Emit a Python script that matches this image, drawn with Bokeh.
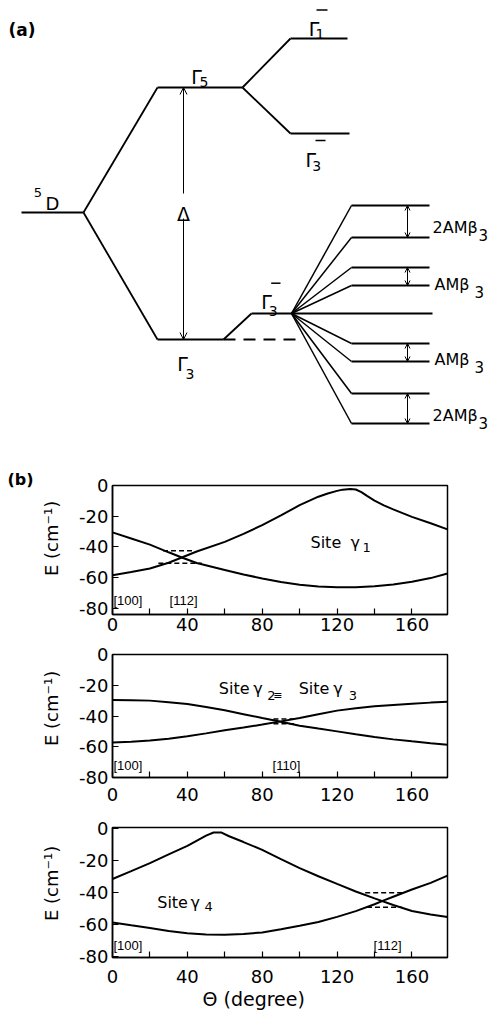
from bokeh.plotting import figure
from bokeh.layouts import column
from bokeh.models import Range1d, Arrow, OpenHead, FixedTicker, ColumnDataSource, Title
from bokeh.core.properties import value
from bokeh.embed import file_html
from bokeh.resources import INLINE

FONT = "DejaVu Sans"
SMALL_FONT = "Liberation Sans"

# ---------------- (a) schematic energy-level scheme ----------------
# levels: left end, right end (diagram column units), schematic energy
LEVEL_X0 = [21, 157, 157, 290, 290, 251]
LEVEL_X1 = [83, 242, 223, 347, 349, 432]
LEVEL_E = [0, 125, -127, 174, 79, -101]
LINK_FROM = [0, 0, 1, 1, 2]
LINK_TO = [1, 2, 3, 4, 5]
REF_X0, REF_X1, REF_E = 223, 297, -127          # dashed Γ3 reference
FAN_ORIGIN_X = 291
FAN_X0, FAN_X1 = 351, 429
FAN_SHIFT = [108, 76, 46, 28, -30, -48, -80, -110]   # relative to Γ3- level
SPLIT_X = 407
SPLIT_TOP = [108, 46, -30, -80]
SPLIT_BOT = [76, 28, -48, -110]
SPLIT_TEXT = ["2AMβ", "AMβ", "AMβ", "2AMβ"]
SPLIT_TX = [432, 434, 434, 432]
SPLIT_TE = [-15, -72, -147, -203]
SPLIT_SX = [478, 474, 474, 478]
SPLIT_SE = [-22, -79, -154, -210]
DELTA_X = 183
DELTA_GAP = [19, -6]

GAMMA_X = [190.7, 308.3, 305, 176.7, 260.7]
GAMMA_E = [136, 183.7, 52.7, -151.3, -89.7]
GAMMA_SUB = ["5", "1", "3", "3", "3"]
GSUB_X = [199, 315, 311.7, 185, 268.3]
GSUB_E = [130.3, 178.7, 47, -161.3, -98]
BAR_X0 = [316, 315, 270.7]
BAR_X1 = [327, 325, 280]
BAR_E = [202.5, 72, -70.7]

# ---------------- (b) angular dependence ----------------
THETA_TICKS = [0, 40, 80, 120, 160]
THETA_MINOR = [20, 60, 100, 140]
E_TICKS = [0, -20, -40, -60, -80]
E_TICK_LABELS = ["0", "-20", "-40", "-60", "-80"]

T1_A = [0, 10, 20, 30, 37, 45, 60, 70, 80, 90, 100, 110, 120, 130, 140, 150, 160, 170, 179]
E1_A = [-30.5, -34.5, -38.5, -43.5, -46.9, -50.5, -55.0, -58.0, -60.5, -62.8, -64.6, -65.8,
        -66.3, -66.2, -65.6, -64.5, -62.7, -60.3, -57.3]
T1_B = [0, 10, 20, 30, 37, 45, 60, 70, 80, 90, 100, 110, 115, 120, 123, 127, 130, 133, 136,
        140, 145, 150, 155, 160, 170, 179]
E1_B = [-58.5, -56.3, -54.0, -50.3, -46.9, -43.0, -36.7, -31.5, -25.8, -19.5, -12.8, -7.3,
        -5.2, -3.5, -2.7, -2.3, -2.6, -4.3, -6.8, -9.8, -12.9, -15.5, -18.0, -20.4, -24.6, -28.6]
D1_X0 = [27, 24.5]
D1_X1 = [43, 47.7]
D1_E = [-42.5, -50.7]

T2 = [0, 10, 20, 30, 40, 50, 60, 70, 80, 90, 100, 110, 120, 130, 140, 150, 160, 170, 179]
E2_A = [-29.6, -29.7, -30.0, -31.0, -32.2, -34.2, -36.3, -38.8, -41.3, -43.7, -46.3, -48.2,
        -50.0, -51.9, -53.7, -55.2, -56.5, -57.7, -58.7]
E2_B = [-57.2, -56.8, -56.0, -54.8, -53.2, -51.3, -49.3, -47.5, -45.6, -43.5, -41.3, -38.8,
        -36.5, -35.0, -33.7, -32.8, -32.0, -31.3, -30.8]
D2_X0 = [86, 86]
D2_X1 = [97, 97]
D2_E = [-42, -45]

T3_A = [0, 10, 20, 30, 40, 50, 54, 58, 62, 70, 80, 90, 100, 110, 120, 130, 140, 150, 160, 170, 179]
E3_A = [-31.4, -26.5, -21.5, -16.0, -10.7, -4.3, -2.3, -2.3, -4.5, -8.3, -13.2, -19.0, -24.6,
        -29.7, -34.5, -39.2, -43.5, -47.7, -51.4, -53.6, -55.1]
T3_B = [0, 10, 20, 30, 40, 50, 60, 70, 80, 90, 100, 110, 120, 130, 140, 145, 150, 160, 170, 179]
E3_B = [-58.6, -60.4, -62.1, -63.9, -65.4, -66.1, -66.3, -65.8, -64.8, -62.8, -60.7, -58.3,
        -55.1, -51.5, -47.2, -44.8, -42.5, -38.0, -33.8, -29.3]
D3_X0 = [135, 136]
D3_X1 = [155.5, 154.6]
D3_E = [-40, -49]


def txt(p, x, y, t, size, align="left", baseline="alphabetic", style="normal", font=FONT):
    p.text(x=x, y=y, text=t, text_font=value(font), text_font_size=value(size),
           text_align=align, text_baseline=baseline, text_font_style=style, text_color="black")


# ------------- figure (a) -------------
pa = figure(width=503, height=469, x_range=Range1d(0, 503), y_range=Range1d(-257, 212),
            x_axis_type=None, y_axis_type=None, toolbar_location=None, output_backend="svg",
            min_border=0)
pa.frame_align = False
pa.grid.visible = False
pa.outline_line_color = None

pa.segment(x0=LEVEL_X0, y0=LEVEL_E, x1=LEVEL_X1, y1=LEVEL_E, line_color="black", line_width=2)
pa.segment(x0=[LEVEL_X1[i] for i in LINK_FROM], y0=[LEVEL_E[i] for i in LINK_FROM],
           x1=[LEVEL_X0[j] for j in LINK_TO], y1=[LEVEL_E[j] for j in LINK_TO],
           line_color="black", line_width=1.8)
pa.segment(x0=[REF_X0], y0=[REF_E], x1=[REF_X1], y1=[REF_E], line_color="black",
           line_width=1.8, line_dash="12 8")
E0 = LEVEL_E[5]
pa.segment(x0=[FAN_ORIGIN_X] * len(FAN_SHIFT), y0=[E0] * len(FAN_SHIFT),
           x1=[FAN_X0] * len(FAN_SHIFT), y1=[E0 + s for s in FAN_SHIFT],
           line_color="black", line_width=1.5)
pa.segment(x0=[FAN_X0] * len(FAN_SHIFT), y0=[E0 + s for s in FAN_SHIFT],
           x1=[FAN_X1] * len(FAN_SHIFT), y1=[E0 + s for s in FAN_SHIFT],
           line_color="black", line_width=2)

# Δ arrow
top_e, bot_e = LEVEL_E[1], LEVEL_E[2]
dsrc = ColumnDataSource(dict(x=[DELTA_X, DELTA_X], y0=DELTA_GAP, y1=[top_e, bot_e]))
pa.add_layout(Arrow(x_start="x", y_start="y0", x_end="x", y_end="y1", source=dsrc,
                    end=OpenHead(size=7, line_width=1), line_width=1))
txt(pa, [DELTA_X], [-1.3], ["Δ"], "19px", align="center")

# splitting arrows
ssrc = ColumnDataSource(dict(x=[SPLIT_X] * 4, y0=[E0 + s for s in SPLIT_TOP],
                             y1=[E0 + s for s in SPLIT_BOT]))
pa.add_layout(Arrow(x_start="x", y_start="y0", x_end="x", y_end="y1", source=ssrc,
                    start=OpenHead(size=5, line_width=1), end=OpenHead(size=5, line_width=1),
                    line_width=1))
txt(pa, SPLIT_TX, SPLIT_TE, SPLIT_TEXT, "16px")
txt(pa, SPLIT_SX, SPLIT_SE, ["3"] * 4, "15px")

# level labels
txt(pa, GAMMA_X, GAMMA_E, ["Γ"] * len(GAMMA_X), "19px")
txt(pa, GSUB_X, GSUB_E, GAMMA_SUB, "14px")
pa.segment(x0=BAR_X0, y0=BAR_E, x1=BAR_X1, y1=BAR_E, line_color="black", line_width=1.5)
txt(pa, [33.3], [20.3], ["5"], "13px")
txt(pa, [45], [8.7], ["D"], "18px")
txt(pa, [8], [183], ["(a)"], "17px", baseline="middle", style="bold")


# ------------- figures (b) -------------
def panel(height, top, bottom, yr, curves, dashes, label_standoff, ytitle_offset):
    p = figure(width=503, height=height, x_range=Range1d(0, 179), y_range=Range1d(*yr),
               min_border_left=112, min_border_right=56, min_border_top=top,
               min_border_bottom=bottom, toolbar_location=None, output_backend="svg")
    p.frame_align = False
    p.grid.visible = False
    p.outline_line_color = "black"
    p.outline_line_width = 1.5
    p.xaxis.ticker = FixedTicker(ticks=THETA_TICKS, minor_ticks=THETA_MINOR)
    p.yaxis.ticker = FixedTicker(ticks=E_TICKS)
    p.yaxis.major_label_overrides = dict(zip(E_TICKS, E_TICK_LABELS))
    for ax in (p.xaxis[0], p.yaxis[0]):
        ax.axis_line_width = 1.5
        ax.major_tick_in = 6
        ax.major_tick_out = 0
        ax.minor_tick_in = 6
        ax.minor_tick_out = 0
        ax.major_tick_line_width = 1.2
        ax.minor_tick_line_width = 1.2
        ax.major_label_text_font = FONT
        ax.major_label_text_font_size = "18px"
        ax.major_label_text_color = "black"
    p.xaxis.major_label_standoff = label_standoff
    p.yaxis.major_label_standoff = 4
    p.yaxis.minor_tick_line_color = None
    for t, e in curves:
        p.line(t, e, line_color="black", line_width=2)
    x0, x1, ee = dashes
    p.segment(x0=x0, y0=ee, x1=x1, y1=ee, line_color="black", line_width=1.5, line_dash="5 3")
    p.add_layout(Title(text="E (cm⁻¹)", align="left", offset=ytitle_offset, standoff=30,
                       text_font=FONT, text_font_size="18px", text_font_style="normal",
                       text_color="black"), "left")
    return p


p1 = panel(171, 16, 26, (-84, 0), [(T1_A, E1_A), (T1_B, E1_B)], (D1_X0, D1_X1, D1_E), 3, 38.5)
txt(p1, [0.5, 30.5], [-74.9, -74.9], ["[100]", "[112]"], "13px", baseline="middle", font=SMALL_FONT)
txt(p1, [105.8, 127.2], [-36.9, -36.9], ["Site", "γ"], "16px")
txt(p1, [133.6], [-40.4], ["1"], "13px")
p1.add_layout(Title(text="(b)", align="left", offset=-105, standoff=-6, text_font=FONT,
                    text_font_size="16px", text_font_style="bold", text_color="black"), "above")

p2 = panel(165, 14, 28, (-80, 0), [(T2, E2_A), (T2, E2_B)], (D2_X0, D2_X1, D2_E), 10, 31.5)
txt(p2, [0.5, 85.5], [-72.2, -72.2], ["[100]", "[110]"], "13px", baseline="middle", font=SMALL_FONT)
txt(p2, [56.8, 75.2, 99.5, 117.9], [-22.3] * 4, ["Site", "γ", "Site", "γ"], "16px")
txt(p2, [82.7, 126.3], [-26.7, -26.7], ["2", "3"], "13px")
txt(p2, [85.9], [-26.7], ["≡"], "11px")

p3 = panel(206, 22, 54, (-80.5, 0.8), [(T3_A, E3_A), (T3_B, E3_B)], (D3_X0, D3_X1, D3_E), 12, 36.5)
txt(p3, [0.5, 139.5], [-73.2, -73.2], ["[100]", "[112]"], "13px", baseline="middle", font=SMALL_FONT)
txt(p3, [23.9, 41.7], [-46, -46], ["Site", "γ"], "16px")
txt(p3, [49.2], [-48.6], ["4"], "13px")
p3.add_layout(Title(text="Θ (degree)", align="left", offset=90, standoff=0, text_font=FONT,
                    text_font_size="19px", text_font_style="normal", text_color="black"), "below")

layout = column(pa, p1, p2, p3, spacing=0)
open("out.html", "w").write(file_html(layout, INLINE))
